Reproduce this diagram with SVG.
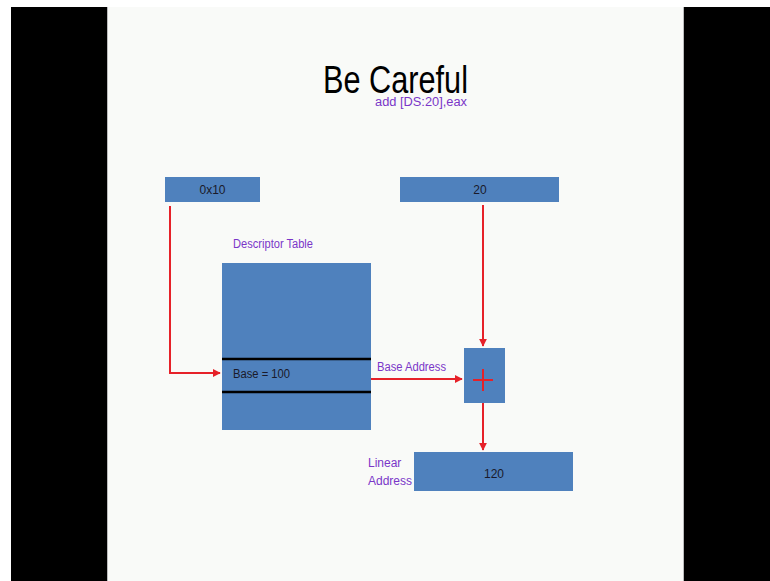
<svg xmlns="http://www.w3.org/2000/svg" width="770" height="581" viewBox="0 0 770 581">
<defs>
<style>
.box{fill:#4f81bd;}
.red{stroke:#e62129;stroke-width:2;fill:none;}
.lbl{font-family:"Liberation Sans",Arial,sans-serif;font-size:12px;fill:#1a1a2a;}
.pur{font-family:"Liberation Sans",Arial,sans-serif;font-size:12px;fill:#7a36c8;}
.sep{stroke:#000;stroke-width:2.5;}
</style>
<marker id="ah" viewBox="0 0 10 10" refX="9" refY="5" markerWidth="4" markerHeight="4" orient="auto" markerUnits="strokeWidth">
<path d="M0,0 L10,5 L0,10 z" fill="#e62129"/>
</marker>
</defs>
<rect x="0" y="0" width="770" height="581" fill="#ffffff"/>
<rect x="11" y="7" width="96" height="574" fill="#000"/>
<rect x="684" y="7" width="86" height="574" fill="#000"/>
<rect x="107" y="7" width="577" height="574" fill="#f9faf8"/>
<line x1="107.5" y1="7" x2="107.5" y2="581" stroke="#bbb" stroke-width="1"/>
<line x1="683.5" y1="7" x2="683.5" y2="581" stroke="#bbb" stroke-width="1"/>

<text x="323" y="93" font-family="'Liberation Sans',Arial,sans-serif" font-size="38" fill="#000" textLength="145" lengthAdjust="spacingAndGlyphs">Be Careful</text>
<text x="375" y="106" class="pur" font-size="13" textLength="92" lengthAdjust="spacingAndGlyphs">add [DS:20],eax</text>

<g id="connectors">
<polyline class="red" points="170,206 170,373 220,373" marker-end="url(#ah)"/>
<line class="red" x1="483" y1="205" x2="483" y2="346" marker-end="url(#ah)"/>
<line class="red" x1="371" y1="379" x2="462" y2="379" marker-end="url(#ah)"/>
<line class="red" x1="483" y1="403" x2="483" y2="450" marker-end="url(#ah)"/>
</g>

<g id="seg">
<rect class="box" x="165" y="177" width="95" height="25"/>
<text class="lbl" x="212.5" y="194" text-anchor="middle">0x10</text>
</g>
<g id="offset">
<rect class="box" x="400" y="177" width="159" height="25"/>
<text class="lbl" x="480" y="194" text-anchor="middle">20</text>
</g>
<g id="table">
<text class="pur" x="233" y="248" textLength="80" lengthAdjust="spacingAndGlyphs">Descriptor Table</text>
<rect class="box" x="222" y="263" width="149" height="167"/>
<line class="sep" x1="222" y1="359" x2="371" y2="359"/>
<line class="sep" x1="222" y1="392" x2="371" y2="392"/>
<text class="lbl" x="233" y="378" textLength="57" lengthAdjust="spacingAndGlyphs">Base = 100</text>
</g>
<text class="pur" x="377" y="371" textLength="69" lengthAdjust="spacingAndGlyphs">Base Address</text>
<g id="adder">
<rect class="box" x="464" y="348" width="41" height="55"/>
<line x1="473" y1="380" x2="493" y2="380" stroke="#e62129" stroke-width="2"/>
<line x1="483" y1="369" x2="483" y2="391" stroke="#e62129" stroke-width="2"/>
</g>
<g id="linear">
<text class="pur" x="368" y="467">Linear</text>
<text class="pur" x="368" y="485">Address</text>
<rect class="box" x="414" y="452" width="159" height="39"/>
<text class="lbl" x="494" y="478" text-anchor="middle" font-size="14">120</text>
</g>
</svg>
